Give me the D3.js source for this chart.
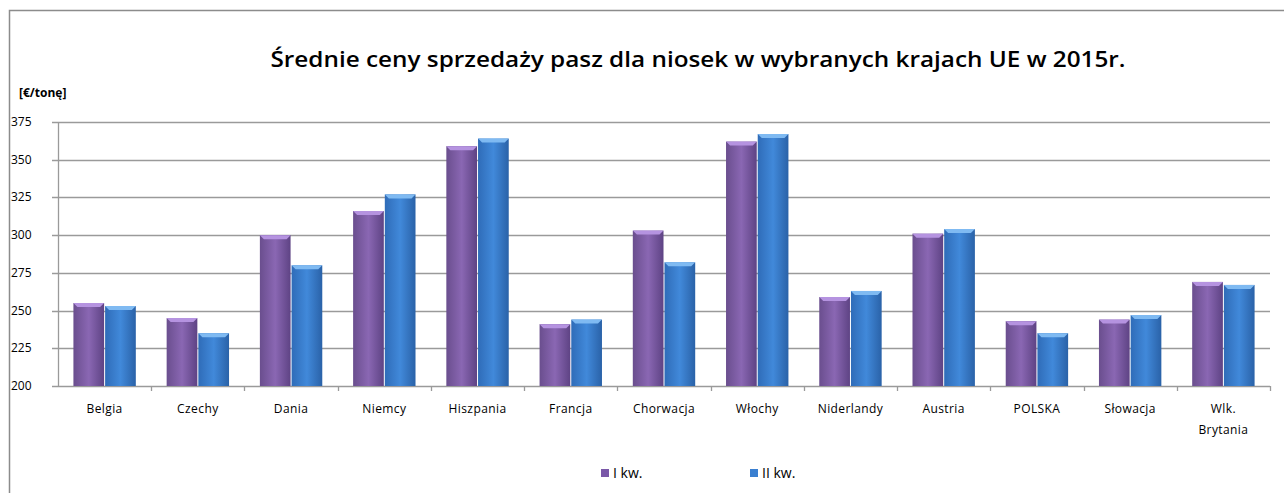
<!DOCTYPE html>
<html>
<head>
<meta charset="utf-8">
<script src="https://cdn.jsdelivr.net/npm/d3@7"></script>
<style>
  body { margin: 0; background: #fff; }
  text { font-family: "Open Sans", "Noto Sans", sans-serif; fill: #000; }
</style>
</head>
<body>
<svg id="chart" width="1284" height="493"></svg>
<script>
// data
var countries = ["Belgia", "Czechy", "Dania", "Niemcy", "Hiszpania", "Francja", "Chorwacja",
                 "Włochy", "Niderlandy", "Austria", "POLSKA", "Słowacja", "Wlk. Brytania"];
var q1 = [255, 245, 300, 316, 359, 241, 303, 362, 259, 301, 243, 244, 269];
var q2 = [253, 235, 280, 327, 364, 244, 282, 367, 263, 304, 235, 247, 267];
var seriesNames = ["I kw.", "II kw."];
var yTicks = [200, 225, 250, 275, 300, 325, 350, 375];

var svg = d3.select('#chart');
var margin = {left: 58, right: 14, top: 122, bottom: 107};
var W = 1284, H = 493;

// frame around chart
svg.append('path')
  .attr('d', 'M9.5,493 V10.5 H1284')
  .attr('fill', 'none')
  .attr('stroke', '#8c8c8c')
  .attr('stroke-width', 1.5);

var x = d3.scaleBand().domain(countries).range([margin.left, W - margin.right]).paddingInner(0.32).paddingOuter(0.16);
var x1 = d3.scaleBand().domain([0, 1]).range([0, x.bandwidth()]);
var y = d3.scaleLinear().domain([200, 375]).range([H - margin.bottom, margin.top]);

// gradients
var defs = svg.append('defs');
function grad(id, c0, c1, c2) {
  var g = defs.append('linearGradient').attr('id', id).attr('x1', 0).attr('x2', 1).attr('y1', 0).attr('y2', 0);
  g.append('stop').attr('offset', '0%').attr('stop-color', c0);
  g.append('stop').attr('offset', '50%').attr('stop-color', c1);
  g.append('stop').attr('offset', '100%').attr('stop-color', c2);
}
grad('gp', '#6a4e8e', '#8a67b3', '#5e4384');
grad('gb', '#2f6cb8', '#4189da', '#2a62a8');
var colors = ['url(#gp)', 'url(#gb)'];
var capColors = ['#b593e0', '#7fbaf2'];
var legendColors = ['#7a58a8', '#3a7fd0'];

// gridlines
svg.append('g').selectAll('line').data(yTicks).enter().append('line')
  .attr('x1', margin.left - 6).attr('x2', W - margin.right)
  .attr('y1', function (d) { return Math.round(y(d)) + 0.5; })
  .attr('y2', function (d) { return Math.round(y(d)) + 0.5; })
  .attr('stroke', '#9a9a9a').attr('stroke-width', 1.3);

// y axis line
svg.append('line')
  .attr('x1', margin.left + 0.5).attr('x2', margin.left + 0.5)
  .attr('y1', margin.top).attr('y2', H - margin.bottom)
  .attr('stroke', '#9a9a9a').attr('stroke-width', 1.3);

// y tick labels
svg.append('g').selectAll('text').data(yTicks).enter().append('text')
  .attr('x', 11).attr('y', function (d) { return y(d) + 4; })
  .style('font-size', '12px')
  .text(function (d) { return d; });

// x category ticks
var bounds = d3.range(countries.length + 1).map(function (i) {
  return margin.left + i * x.step();
});
svg.append('g').selectAll('line').data(bounds.slice(1)).enter().append('line')
  .attr('x1', function (d) { return Math.round(d) + 0.5; })
  .attr('x2', function (d) { return Math.round(d) + 0.5; })
  .attr('y1', H - margin.bottom).attr('y2', H - margin.bottom + 5)
  .attr('stroke', '#9a9a9a').attr('stroke-width', 1.3);

// bars
var rows = countries.map(function (c, i) { return {name: c, vals: [q1[i], q2[i]]}; });
var groups = svg.append('g').selectAll('g').data(rows).enter().append('g')
  .attr('transform', function (d) { return 'translate(' + x(d.name) + ',0)'; });

groups.selectAll('rect').data(function (d) { return d.vals; }).enter().append('rect')
  .attr('x', function (d, i) { return x1(i) + 0.5; })
  .attr('width', x1.bandwidth() - 1)
  .attr('y', function (d) { return y(d); })
  .attr('height', function (d) { return y(200) - y(d); })
  .attr('fill', function (d, i) { return colors[i]; });

// bevelled top of each bar
groups.selectAll('path').data(function (d) { return d.vals; }).enter().append('path')
  .attr('d', function (d, i) {
    var x0 = x1(i) + 0.5, w = x1.bandwidth() - 1, t = y(d);
    return 'M' + x0 + ',' + t + ' H' + (x0 + w) + ' L' + (x0 + w - 4) + ',' + (t + 4) + ' H' + (x0 + 4) + ' Z';
  })
  .attr('fill', function (d, i) { return capColors[i]; });

// x labels
svg.append('g').selectAll('text').data(countries).enter().append('text')
  .attr('text-anchor', 'middle')
  .style('font-size', '12px')
  .style('letter-spacing', '0.4px')
  .each(function (d) {
    var t = d3.select(this);
    var cx = x(d) + x.bandwidth() / 2;
    var parts = d === 'Wlk. Brytania' ? ['Wlk.', 'Brytania'] : [d];
    parts.forEach(function (p, k) {
      t.append('tspan').attr('x', cx).attr('y', 413 + k * 21).text(p);
    });
  });

// title
svg.append('text')
  .attr('x', 698).attr('y', 67)
  .attr('text-anchor', 'middle')
  .style('font-size', '21px').style('font-weight', '600')
  .attr('textLength', 855).attr('lengthAdjust', 'spacingAndGlyphs')
  .text('Średnie ceny sprzedaży pasz dla niosek w wybranych krajach UE w 2015r.');

// unit label
svg.append('text')
  .attr('x', 19).attr('y', 97)
  .style('font-size', '12px').style('font-weight', 'bold')
  .text('[€/tonę]');

// legend
var lx = [601, 750];
seriesNames.forEach(function (s, i) {
  svg.append('rect').attr('x', lx[i]).attr('y', 469).attr('width', 8).attr('height', 8)
    .attr('fill', legendColors[i]);
  svg.append('text').attr('x', lx[i] + 12).attr('y', 478)
    .style('font-size', '14px').text(s);
});
</script>
</body>
</html>
